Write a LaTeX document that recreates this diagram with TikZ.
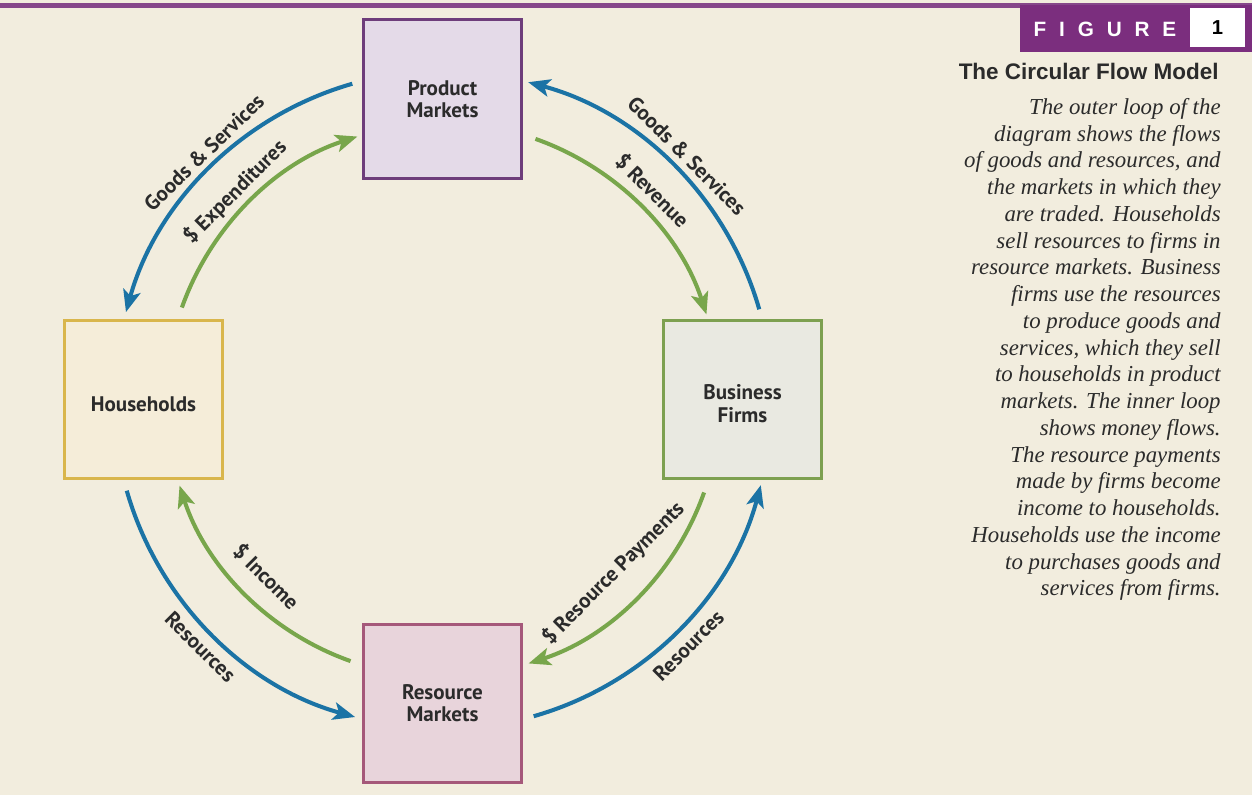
\documentclass[tikz,border=0pt]{standalone}
\usepackage{fontspec}
\setmainfont{Liberation Serif}
\newfontfamily\labelfont{PT Sans}
\newfontfamily\headfont{Liberation Sans}
\usetikzlibrary{arrows.meta}
\definecolor{bgcream}{HTML}{F2EDDE}
\definecolor{figpurple}{HTML}{7B2E7E}
\definecolor{linepurple}{HTML}{86478A}
\definecolor{textdark}{HTML}{2B2B2B}
\definecolor{cBlue}{HTML}{1B73A5}
\definecolor{cGreen}{HTML}{78A64B}
\definecolor{pmFill}{HTML}{E4DAE8}
\definecolor{pmDraw}{HTML}{6E3D7B}
\definecolor{hhFill}{HTML}{F5EDD9}
\definecolor{hhDraw}{HTML}{D9B64C}
\definecolor{bfFill}{HTML}{E9E9E1}
\definecolor{bfDraw}{HTML}{7DA050}
\definecolor{rmFill}{HTML}{E8D4DB}
\definecolor{rmDraw}{HTML}{A5587A}
\begin{document}
\begin{tikzpicture}[x=0.02cm,y=0.02cm,
  box/.style={draw, line width=1.7pt, minimum width=3.18cm, minimum height=3.18cm,
    inner sep=0pt, align=center, text=textdark,
    font=\labelfont\bfseries\fontsize{12}{12.6}\selectfont},
  boxtext/.style={inner sep=0pt, align=center, text=textdark,
    font=\labelfont\bfseries\fontsize{12}{12.6}\selectfont},
  bluearc/.style={draw=cBlue, line width=2.3pt, -{Stealth[length=12.5pt,width=10pt,inset=3pt]}},
  greenarc/.style={draw=cGreen, line width=2.3pt, -{Stealth[length=12.5pt,width=10pt,inset=3pt]}},
  lbl/.style={inner sep=0pt, text=textdark, font=\labelfont\bfseries\fontsize{12}{12.6}\selectfont}
]
\useasboundingbox (0,0) rectangle (1252,795);
\fill[bgcream] (0,0) rectangle (1252,795);
% top rule
\coordinate (ruleL) at (0,789.5);
\coordinate (ruleR) at (1252,789.5);
\draw[linepurple, line width=2.8pt] (ruleL) -- (ruleR);
% figure tag
\node[fill=figpurple, minimum width=4.64cm, minimum height=0.94cm, inner sep=0pt, anchor=north west] (figtag) at (1020,790) {};
\node[fill=white, minimum width=1.1cm, minimum height=0.78cm, inner sep=0pt] (fignum) at (1217.5,767.5)
  {\headfont\bfseries\fontsize{11.5}{12}\selectfont 1};
\node[text=white, inner sep=0pt] (figword) at (1105,766)
  {\headfont\bfseries\fontsize{11.8}{12}\selectfont F\hspace{0.62em}I\hspace{0.62em}G\hspace{0.62em}U\hspace{0.62em}R\hspace{0.62em}E};
% title and caption
\node[anchor=base east, inner sep=0pt, text=textdark] (title) at (1219,715)
  {\headfont\bfseries\fontsize{12.8}{14}\selectfont The Circular Flow Model};
\node[anchor=north east, align=right, inner sep=0pt, text=textdark,
  font=\fontsize{13}{15.22}\selectfont\itshape] (para) at (1221,697)
  {The outer loop of the\\
   diagram shows the flows\\
   of goods and resources, and\\
   the markets in which they\\
   are traded. Households\\
   sell resources to firms in\\
   resource markets. Business\\
   firms use the resources\\
   to produce goods and\\
   services, which they sell\\
   to households in product\\
   markets. The inner loop\\
   shows money flows.\\
   The resource payments\\
   made by firms become\\
   income to households.\\
   Households use the income\\
   to purchases goods and\\
   services from firms.};
% boxes
\node[box, draw=pmDraw, fill=pmFill] (pm) at (442.5,696) {Product\\Markets};
\node[box, draw=hhDraw, fill=hhFill] (hh) at (143.5,395.5) {};
\node[boxtext] (hhtext) at ([yshift=-2.6pt]hh.center) {Households};
\node[box, draw=bfDraw, fill=bfFill] (bf) at (742.5,395.5) {};
\node[boxtext] (bftext) at ([yshift=-2.4pt]bf.center) {Business\\Firms};
\node[box, draw=rmDraw, fill=rmFill] (rm) at (442.5,91.5) {Resource\\Markets};
% centre of the flow circle
\coordinate (c) at (443,395);
% arc start points
\coordinate (bTR) at ([shift={(16:329)}]c);
\coordinate (bTL) at ([shift={(106:329)}]c);
\coordinate (bBL) at ([shift={(196:329)}]c);
\coordinate (bBR) at ([shift={(286:329)}]c);
\coordinate (gTR) at ([shift={(70.5:277)}]c);
\coordinate (gTL) at ([shift={(160.5:277)}]c);
\coordinate (gBL) at ([shift={(250.5:277)}]c);
\coordinate (gBR) at ([shift={(340.5:277)}]c);
% outer (blue) flows
\draw[bluearc] (bTR) arc[start angle=16, end angle=75, radius=329];
\draw[bluearc] (bTL) arc[start angle=106, end angle=164.5, radius=329];
\draw[bluearc] (bBL) arc[start angle=196, end angle=254.5, radius=329];
\draw[bluearc] (bBR) arc[start angle=286, end angle=345, radius=329];
% inner (green) flows
\draw[greenarc] (gTR) arc[start angle=70.5, end angle=18, radius=277];
\draw[greenarc] (gTL) arc[start angle=160.5, end angle=108, radius=277];
\draw[greenarc] (gBL) arc[start angle=250.5, end angle=198, radius=277];
\draw[greenarc] (gBR) arc[start angle=340.5, end angle=288, radius=277];
% labels
\node[lbl, rotate=44] (l1) at ([shift={(134:344)}]c) {Goods \& Services};
\node[lbl, rotate=45] (l2) at ([shift={(135:294)}]c) {\$ Expenditures};
\node[lbl, rotate=-45] (l3) at ([shift={(45:345)}]c) {Goods \& Services};
\node[lbl, rotate=-45] (l4) at ([shift={(45:296)}]c) {\$ Revenue};
\node[lbl, rotate=-45] (l5) at ([shift={(225:250)}]c) {\$ Income};
\node[lbl, rotate=-45] (l6) at ([shift={(225.5:346)}]c) {Resources};
\node[lbl, rotate=45] (l7) at ([shift={(314.5:243)}]c) {\$ Resource Payments};
\node[lbl, rotate=45] (l8) at ([shift={(315:347)}]c) {Resources};
\end{tikzpicture}
\end{document}
